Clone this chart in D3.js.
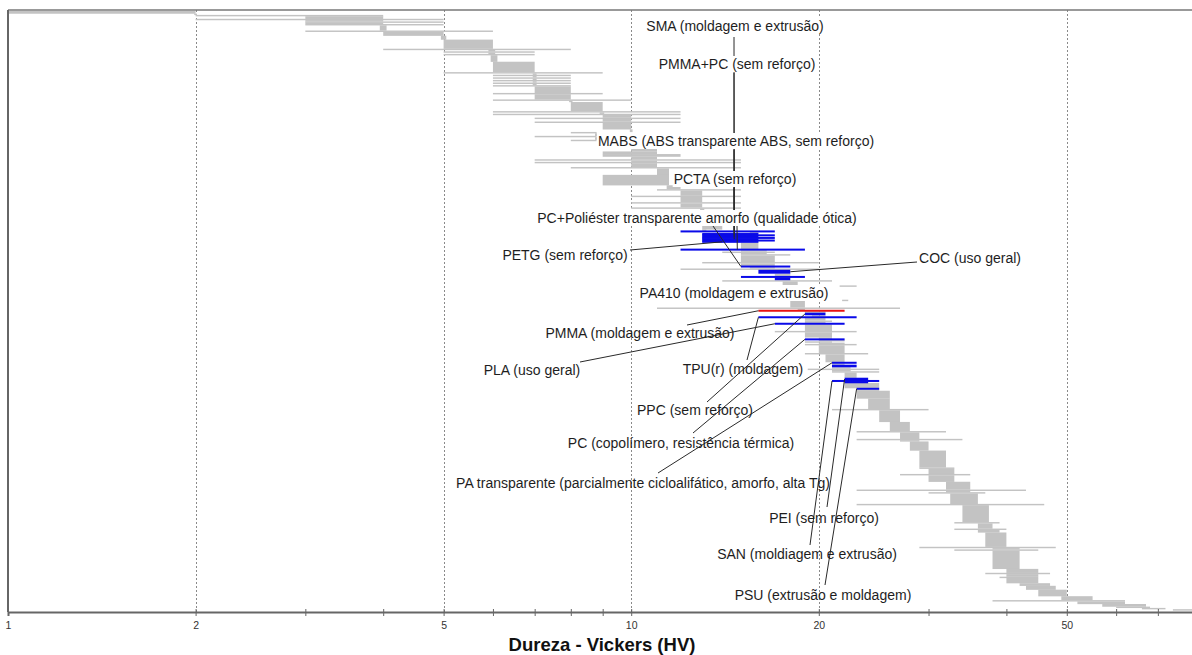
<!DOCTYPE html>
<html>
<head>
<meta charset="utf-8">
<script src="https://cdn.jsdelivr.net/npm/d3@7"></script>
<style>
  body { margin: 0; background: #fff; }
  svg { display: block; }
</style>
</head>
<body>
<script>
// Hardness ranges (HV), one entry per group of grades stacked in rank order: [low, high, grades, key]
const grades = [
  [1, 2, 2], [1.99, 2.01, 1], [2, 4, 1], [3, 4, 2], [2, 5, 1], [3, 4, 1], [3, 5, 1], [3, 4, 1], [3, 5, 1],
  [3.95, 4.05, 4], [3, 6, 1], [4, 5, 3], [4.95, 5.05, 3], [5, 6, 7], [4, 8, 1], [5.9, 6.05, 1], [5, 7, 1],
  [5.9, 6.05, 1], [5, 7, 1], [5.95, 6.1, 5], [6, 7, 8], [5, 9, 1], [6.95, 7.05, 1], [6, 8, 1], [6.95, 7.05, 1],
  [6, 8, 1], [6.95, 7.05, 1], [6, 8, 1], [6.95, 7.05, 1], [6, 8, 1], [6.95, 7.05, 1], [6, 8, 1], [7, 8, 5],
  [6, 9, 1], [7, 8, 4], [6, 10, 1], [7.95, 8.05, 1], [8, 9, 7], [6, 12, 1], [8.9, 9.05, 1], [6, 12, 1],
  [9, 10, 2], [7, 12, 1], [9, 10, 2], [7, 12, 1], [9, 10, 5], [9.95, 10.05, 2], [8, 8.8, 1], [8.75, 8.85, 2],
  [7, 8.8, 1], [8.75, 8.85, 2], [8, 8.8, 1], [10, 11, 8], [9, 11, 2], [9, 12, 2], [10, 11, 2], [7, 15, 1],
  [10, 11, 1], [7, 15, 1], [10, 11, 3], [8, 15, 1], [11, 11.5, 5], [9, 11.5, 8], [11.4, 12, 3], [11, 15, 1],
  [12, 13, 4], [10, 15, 1], [12, 13, 4], [10, 15, 1], [12, 13, 3], [10, 15, 1], [12.9, 13.1, 1], [13, 14, 15],
  [13, 13.2, 1],
  [12, 17, 1, "SMA"], [15.5, 16, 1], [13, 16, 1, "PMMA+PC"], [13, 17, 1, "PMMA+PC"], [13, 16, 1, "MABS"],
  [13, 17, 1, "MABS"], [13, 16, 1, "PCTA"], [13, 17, 1, "PCTA"], [13, 16, 1, "PETG"], [15, 16, 5],
  [12, 19, 1, "PCPOL"], [15, 16.5, 1], [14, 17, 1], [15, 16.5, 1], [15, 18, 1], [15, 17, 5], [13, 20, 1],
  [15, 17, 2], [15, 18, 1, "PCPOL2"], [15.5, 17, 1], [12, 20, 1], [16, 18, 3, "COC"], [17, 18, 2],
  [15, 19, 1, "PA410"], [17, 18, 2, "PA410"], [14, 21, 1], [17.5, 18.5, 3], [21.6, 23, 1], [18, 19, 10],
  [21.8, 22.3, 1], [18, 19, 5], [11, 27, 1], [18.5, 19, 1],
  [16, 22, 1, "PMMA"], [19, 20.5, 1], [19, 20.5, 2, "PPC"], [19.5, 20.5, 1], [16, 23, 1, "TPU"],
  [19, 20.5, 2], [19, 21, 1], [19, 20.5, 1], [17, 22, 1, "PLA"], [19, 21, 5], [17, 23, 1], [19, 21, 4],
  [20, 21, 1], [19, 22, 1, "PCCOP"], [20, 22, 1], [19, 21, 1], [20, 22, 1], [19, 23, 1], [20, 22, 6],
  [19, 24, 1], [20.5, 22, 6], [21, 23, 1, "PAT"], [21, 22, 1], [21, 23, 2, "PAT"], [21, 22.5, 1],
  [19.2, 25, 1], [21, 22.5, 1], [21, 25, 1], [22, 23, 4], [22, 24, 2, "PEI"], [21, 25, 1, "SAN"],
  [22, 24, 1, "PEI"], [22, 25, 4], [23, 25, 1, "PSU"], [23, 25, 1],
  [23, 26, 6], [24, 26, 8], [21, 30, 1], [25, 27, 9], [26, 28, 7], [23, 32, 1], [27, 29, 5], [23, 34, 1],
  [27, 29, 1], [28, 30, 7], [29, 32, 13], [29, 33, 1], [30, 33, 4], [27, 35, 1], [30, 33, 5], [32, 35, 6],
  [23, 43, 1], [32, 35, 1], [30, 37, 1], [32.5, 36, 8], [23, 46, 1], [34, 37.5, 13], [33, 39, 1], [36, 38, 4],
  [33, 40, 1], [36, 39, 2], [37, 40, 11], [29, 48, 1], [38, 42, 1], [33, 45, 1], [38, 42, 14], [40, 45, 3],
  [37, 47, 1], [40, 45, 2], [39, 45, 1], [40, 45, 4], [42, 47, 2], [43, 48, 3], [45, 50, 5], [49, 55, 3],
  [38, 62, 1], [52, 62, 2], [57, 67, 2], [60, 68, 1], [66, 72, 1], [74, 80, 1]
];

// Labelled materials
const labels = [
  ["SMA", "SMA (moldagem e extrusão)"],
  ["PMMA+PC", "PMMA+PC (sem reforço)"],
  ["MABS", "MABS (ABS transparente ABS, sem reforço)"],
  ["PCTA", "PCTA (sem reforço)"],
  ["PCPOL", "PC+Poliéster transparente amorfo (qualidade ótica)"],
  ["PETG", "PETG (sem reforço)"],
  ["COC", "COC (uso geral)"],
  ["PA410", "PA410 (moldagem e extrusão)"],
  ["PMMA", "PMMA (moldagem e extrusão)"],
  ["PLA", "PLA (uso geral)"],
  ["TPU", "TPU(r) (moldagem)"],
  ["PPC", "PPC (sem reforço)"],
  ["PCCOP", "PC (copolímero, resistência térmica)"],
  ["PAT", "PA transparente (parcialmente cicloalifático, amorfo, alta Tg)"],
  ["PEI", "PEI (sem reforço)"],
  ["SAN", "SAN (moldiagem e extrusão)"],
  ["PSU", "PSU (extrusão e moldagem)"]
];

// Leader lines: [label, target grade key, HV point on the bar]
const leaders = [
  ["SMA", "SMA", 14.63], ["PMMA+PC", "PMMA+PC", 14.63], ["MABS", "MABS", 14.63], ["PCTA", "PCTA", 14.63],
  ["PCPOL", "PCPOL", 14.8], ["PCPOL", "PCPOL2", 15], ["PETG", "PETG", 14], ["COC", "COC", 18],
  ["PMMA", "PMMA", 16], ["PLA", "PLA", 17], ["TPU", "TPU", 16], ["PPC", "PPC", 19], ["PCCOP", "PCCOP", 19],
  ["PAT", "PAT", 21], ["PEI", "PEI", 22], ["SAN", "SAN", 21], ["PSU", "PSU", 23]
];

const tickValues = [1, 2, 3, 4, 5, 6, 7, 8, 9, 10, 20, 30, 40, 50, 60, 70];
const tickLabels = [1, 2, 5, 10, 20, 50];
const axisTitle = "Dureza - Vickers (HV)";
const redKey = "PMMA";

// Layout of labels: [centre x, baseline y, white box behind]
const labelLayout = {
  SMA: [735, 31, true], "PMMA+PC": [737, 69, true], MABS: [736, 146, true], PCTA: [735, 184, true],
  PCPOL: [697, 223, true], PETG: [565, 260, false], COC: [970, 263, false], PA410: [734, 298, true],
  PMMA: [640, 338, false], PLA: [532, 375, false], TPU: [743, 374, false], PPC: [695, 415, false],
  PCCOP: [681, 448, false], PAT: [643, 488, false], PEI: [824, 523, false], SAN: [807, 559, false],
  PSU: [823, 600, false]
};
// Start points of leader lines, same order as leaders
const leaderFrom = [
  [734, 37], [734, 73], [734, 150], [734, 188], [737, 226], [713, 226], [630, 250], [917, 262],
  [687, 325], [580, 362], [747, 360], [707, 402], [693, 433], [658, 473], [827, 507], [810, 545], [825, 585]
];

const width = 1192, height = 655;
const plotTop = 10, plotBottom = 612, plotLeft = 8;

const svg = d3.select("body").append("svg")
  .attr("width", width).attr("height", height)
  .attr("font-family", "Arial, 'Liberation Sans', sans-serif");

const x = d3.scaleLog().domain([1, 80]).range([plotLeft, 1194]);

const totalRows = d3.sum(grades, d => d[2]);
const starts = [0, ...d3.cumsum(grades, d => d[2])].slice(0, grades.length);
const y = d3.scaleLinear().domain([0, totalRows]).range([11, 610.5]);

// grid
svg.append("g").selectAll("line")
  .data(tickLabels.slice(1))
  .join("line")
  .attr("x1", d => Math.round(x(d)) + 0.5).attr("x2", d => Math.round(x(d)) + 0.5)
  .attr("y1", plotTop).attr("y2", plotBottom)
  .attr("stroke", "#8a8a8a").attr("stroke-dasharray", "2,2").attr("stroke-width", 1);

// bars
const rows = grades.map((d, i) => ({lo: d[0], hi: d[1], n: d[2], key: d[3], start: starts[i]}));

svg.append("g").selectAll("rect")
  .data(rows.filter(d => !d.key))
  .join("rect")
  .attr("x", d => x(d.lo))
  .attr("width", d => x(d.hi) - x(d.lo))
  .attr("y", d => y(d.start))
  .attr("height", d => y(d.start + d.n) - y(d.start) + 0.15)
  .attr("fill", "#c3c3c3");

svg.append("g").selectAll("rect")
  .data(rows.filter(d => d.key))
  .join("rect")
  .attr("x", d => x(d.lo))
  .attr("width", d => x(d.hi) - x(d.lo))
  .attr("y", d => (y(d.start) + y(d.start + d.n)) / 2 - Math.max(1, (y(d.start + d.n) - y(d.start)) / 2))
  .attr("height", d => Math.max(2, y(d.start + d.n) - y(d.start)))
  .attr("fill", d => d.key === redKey ? "#e81414" : "#0a0ae8");

// leader lines
const rowOf = key => rows.find(r => r.key === key);
svg.append("g").selectAll("line")
  .data(leaders)
  .join("line")
  .attr("x1", (d, i) => leaderFrom[i][0]).attr("y1", (d, i) => leaderFrom[i][1])
  .attr("x2", d => x(d[2]))
  .attr("y2", d => { const r = rowOf(d[1]); return y(r.start + r.n / 2); })
  .attr("stroke", "#2a2a2a").attr("stroke-width", 1);

// labels
const lg = svg.append("g");
labels.forEach(([key, text]) => {
  const [cx, by, boxed] = labelLayout[key];
  const g = lg.append("g");
  const t = g.append("text")
    .attr("x", cx).attr("y", by)
    .attr("text-anchor", "middle")
    .attr("font-size", 14)
    .attr("fill", "#1e1e1e")
    .text(text);
  if (boxed) {
    const b = t.node().getBBox();
    g.insert("rect", "text")
      .attr("x", b.x - 1).attr("y", b.y).attr("width", b.width + 2).attr("height", b.height)
      .attr("fill", "#fff");
  }
});

// frame
svg.append("line").attr("x1", plotLeft).attr("x2", width).attr("y1", plotTop).attr("y2", plotTop)
  .attr("stroke", "#777").attr("stroke-width", 1.5);
svg.append("line").attr("x1", plotLeft).attr("x2", plotLeft).attr("y1", plotTop).attr("y2", plotBottom)
  .attr("stroke", "#666").attr("stroke-width", 2);

// axis
const axis = svg.append("g")
  .attr("transform", `translate(0,${plotBottom})`)
  .call(d3.axisBottom(x).tickValues(tickValues).tickSizeOuter(0).tickSize(4).tickPadding(6)
    .tickFormat(d => tickLabels.includes(d) ? d : ""));
axis.select(".domain").attr("stroke", "#666").attr("stroke-width", 2);
axis.selectAll(".tick line").attr("stroke", "#666").attr("y1", -3);
axis.selectAll(".tick text").attr("font-size", 10.5).attr("fill", "#333")
  .attr("font-family", "Arial, 'Liberation Sans', sans-serif");

svg.append("text")
  .attr("x", 602).attr("y", 651)
  .attr("text-anchor", "middle")
  .attr("font-size", 18.5).attr("font-weight", "bold").attr("fill", "#111")
  .text(axisTitle);
</script>
</body>
</html>
